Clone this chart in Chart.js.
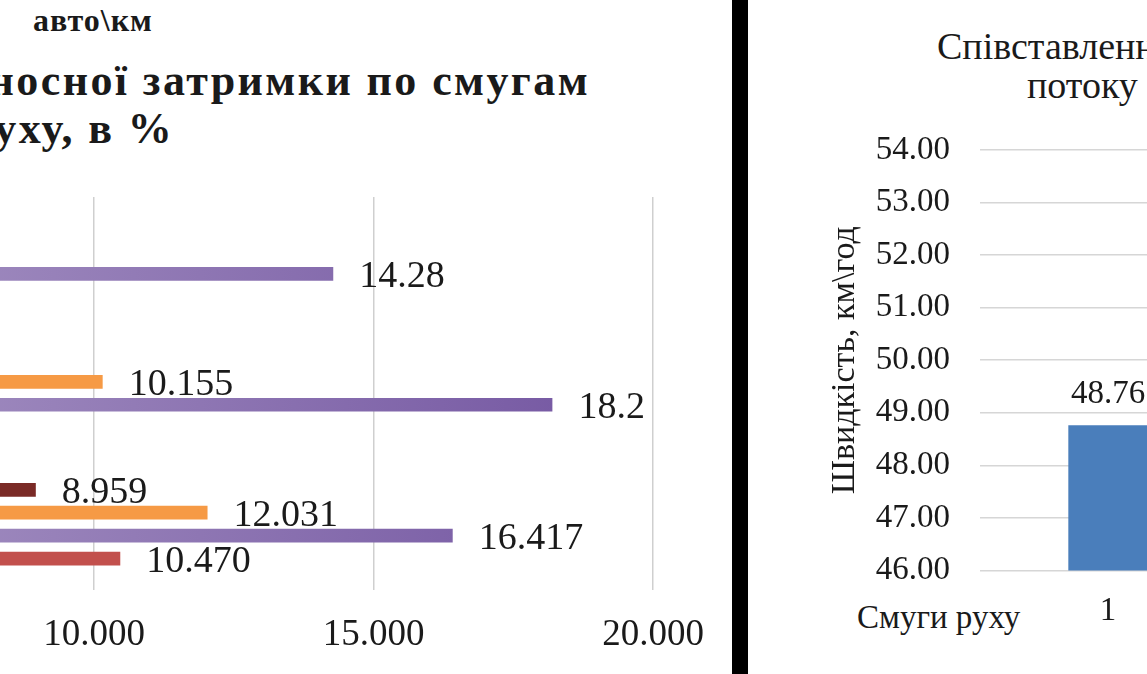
<!DOCTYPE html>
<html lang="uk">
<head>
<meta charset="UTF-8">
<title>Відносна затримка та швидкість по смугах руху</title>
<script src="https://cdn.jsdelivr.net/npm/chart.js"></script>
<style>
  html, body { margin: 0; padding: 0; }
  body { width: 1147px; height: 674px; overflow: hidden; position: relative; background: #fff;
         font-family: "Liberation Serif", "DejaVu Serif", serif; color: #1a1a1a; }
  .txt { position: absolute; white-space: nowrap; }
  #delayChart { position: absolute; left: -600px; top: 0; }
  #speedChart { position: absolute; left: 748px; top: 0; }
  #divider { position: absolute; left: 732px; top: 0; width: 16px; height: 674px; background: #000; }
</style>
</head>
<body>

  <!-- left chart (cropped): relative delay by lane -->
  <div class="txt" style="left:33px; top:4px; font:bold 32px/32px 'Liberation Serif'; letter-spacing:1px;">авто\км</div>
  <div class="txt" style="right:557px; top:56px; font:bold 44px/50px 'Liberation Serif'; letter-spacing:2.4px;">Порівняння відносної затримки по смугам</div>
  <div class="txt" style="left:-32px; top:104px; font:bold 44px/50px 'Liberation Serif'; letter-spacing:2.4px;">руху, в %</div>
  <canvas id="delayChart" width="1332" height="703"></canvas>

  <div id="divider"></div>

  <!-- right chart (cropped): flow speed by lane -->
  <div class="txt" style="left:937px; top:26px; font:38px/40px 'Liberation Serif';">Співставлення швидкості</div>
  <div class="txt" style="left:1027px; top:65px; font:38px/40px 'Liberation Serif';">потоку по смугах руху</div>
  <div class="txt" style="left:857px; top:600px; font:33px/34px 'Liberation Serif';">Смуги руху</div>
  <canvas id="speedChart" width="500" height="674"></canvas>

<script>
  // ---- data: relative delay, % ----
  // only bars that reach into the visible crop can be read; the rest are left empty
  const delayCategories = ['Смуга 1', 'Смуга 2', 'Смуга 3'];
  const delaySeries1 = [null, null, '8.959'];
  const delaySeries2 = [null, '10.155', '12.031'];
  const delaySeries3 = ['14.28', '18.2', '16.417'];
  const delaySeries4 = [null, null, '10.470'];
  const delayTicks = [0, 5, 10, 15, 20];

  // ---- data: speed, km/h ----
  const speedCategories = ['1'];
  const speedValues = [48.76];
  const speedTicks = [46, 47, 48, 49, 50, 51, 52, 53, 54];

  const serif = 'Liberation Serif';

  // value labels next to / above the bars
  const valueLabels = {
    id: 'valueLabels',
    afterDatasetsDraw(chart, args, opts) {
      const ctx = chart.ctx;
      ctx.save();
      ctx.font = opts.size + 'px "' + serif + '"';
      ctx.fillStyle = '#1a1a1a';
      chart.data.datasets.forEach((ds, i) => {
        chart.getDatasetMeta(i).data.forEach((bar, j) => {
          const raw = ds.data[j];
          if (raw == null) return;
          const text = opts.format ? opts.format(raw) : String(raw);
          if (opts.horizontal) {
            ctx.textAlign = 'left';
            ctx.textBaseline = 'middle';
            ctx.fillText(text, bar.x + opts.offset, bar.y + opts.dy);
          } else {
            ctx.textAlign = 'center';
            ctx.textBaseline = 'alphabetic';
            ctx.fillText(text, bar.x, bar.y - opts.offset);
          }
        });
      });
      ctx.restore();
    }
  };

  // Excel-like gradient for the purple series
  function purpleFill(c) {
    const a = c.chart.chartArea;
    if (!a) return '#8064A2';
    const g = c.chart.ctx.createLinearGradient(a.left, 0, a.right, 0);
    g.addColorStop(0, '#b7a8cf');
    g.addColorStop(1, '#7254a0');
    return g;
  }

  new Chart(document.getElementById('delayChart'), {
    type: 'bar',
    data: {
      labels: delayCategories,
      datasets: [
        { label: 'Ряд 1', data: delaySeries1, backgroundColor: '#7a2a26' },
        { label: 'Ряд 2', data: delaySeries2, backgroundColor: '#f69a45' },
        { label: 'Ряд 3', data: delaySeries3, backgroundColor: purpleFill },
        { label: 'Ряд 4', data: delaySeries4, backgroundColor: '#c2504c' }
      ]
    },
    options: {
      indexAxis: 'y',
      responsive: false,
      animation: false,
      categoryPercentage: 0.7,
      barPercentage: 0.6,
      layout: { padding: { top: 197, right: 79, bottom: 23, left: 0 } },
      scales: {
        x: {
          min: delayTicks[0],
          max: delayTicks[delayTicks.length - 1],
          afterBuildTicks: s => { s.ticks = delayTicks.map(v => ({ value: v })); },
          ticks: {
            padding: 23,
            color: '#1a1a1a',
            font: { family: serif, size: 37 },
            callback: v => Number(v).toFixed(3)
          },
          grid: { color: '#cfcfcf', lineWidth: 1.5, drawTicks: false },
          border: { display: false }
        },
        y: {
          afterFit: s => { s.width = 135; },
          ticks: { color: '#1a1a1a', font: { family: serif, size: 30 } },
          grid: { display: false },
          border: { display: false }
        }
      },
      plugins: {
        legend: { display: false },
        tooltip: { enabled: false },
        valueLabels: { horizontal: true, size: 38, offset: 26, dy: 3 }
      }
    },
    plugins: [valueLabels]
  });

  new Chart(document.getElementById('speedChart'), {
    type: 'bar',
    data: {
      labels: speedCategories,
      datasets: [
        { label: 'Швидкість', data: speedValues, backgroundColor: '#4a7ebb' }
      ]
    },
    options: {
      responsive: false,
      animation: false,
      categoryPercentage: 1,
      barPercentage: 0.31,
      layout: { padding: { top: 150, right: 12, bottom: 22, left: 77 } },
      scales: {
        x: {
          ticks: { padding: 21, color: '#1a1a1a', font: { family: serif, size: 33 } },
          grid: { display: false, drawTicks: false },
          border: { display: false }
        },
        y: {
          min: speedTicks[0],
          max: speedTicks[speedTicks.length - 1],
          afterBuildTicks: s => { s.ticks = speedTicks.map(v => ({ value: v })); },
          afterFit: s => { s.width = 155; },
          ticks: {
            padding: 30,
            color: '#1a1a1a',
            font: { family: serif, size: 33 },
            callback: v => Number(v).toFixed(2)
          },
          grid: { color: '#d6d6d6', lineWidth: 1.5, drawTicks: false },
          border: { display: false },
          title: {
            display: true,
            text: 'Швидкість, км\\год',
            color: '#1a1a1a',
            padding: 0,
            font: { family: serif, size: 34 }
          }
        }
      },
      plugins: {
        legend: { display: false },
        tooltip: { enabled: false },
        valueLabels: { horizontal: false, size: 33, offset: 22, format: v => v.toFixed(2) }
      }
    },
    plugins: [valueLabels]
  });
</script>
</body>
</html>
